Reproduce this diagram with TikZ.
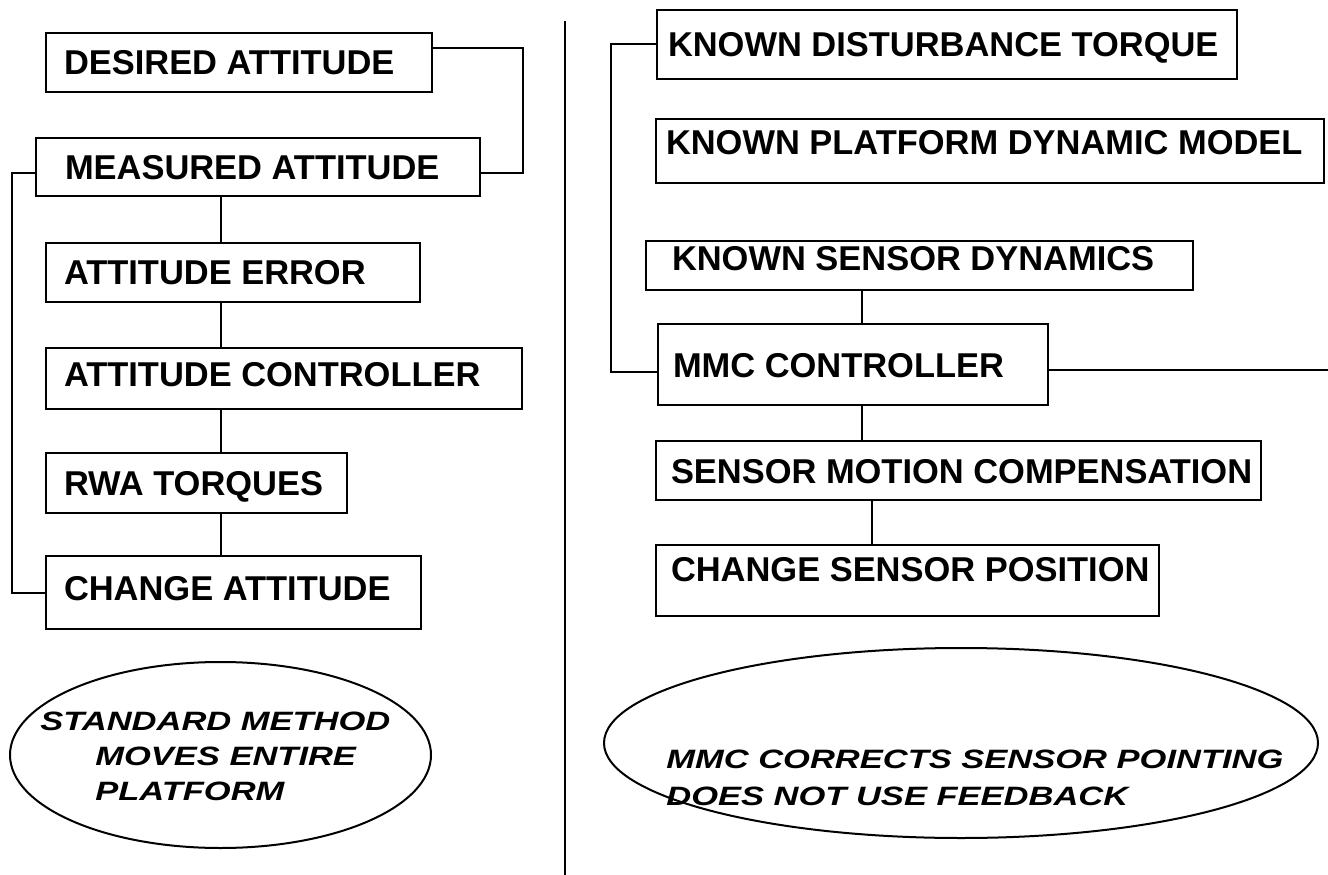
\documentclass[tikz,border=0pt]{standalone}
\usepackage{fontspec}
\setmainfont{Liberation Sans}
\newfontfamily\ovalfont[FakeStretch=1.3]{Liberation Sans}
\usepackage{tikz}
\usetikzlibrary{calc}
\def\inbox[#1:#2]#3{\makebox[#1][l]{\hspace*{#2}#3}}
\tikzset{
	box/.style={draw, line width=0.4mm, anchor=north west, inner xsep=0pt, inner ysep=0pt, text height=0.5cm, text depth=0pt, font=\fontsize{19.6pt}{23pt}\selectfont\bfseries},
	wire/.style={line width=0.4mm},
	oval/.style={anchor=north west, inner sep=0pt, align=left, font=\fontsize{15.1pt}{19.9pt}\selectfont\ovalfont\bfseries\itshape}
}

\begin{document}
\begin{tikzpicture}
			%%%%% START %%%%%
			\useasboundingbox (0,0) rectangle (26.56,-17.5);
			
			% standard method
			\node[box, minimum height=1.18cm] (des) at (0.90,-0.64) {\inbox[7.72cm:0.36cm]{DESIRED ATTITUDE}};
			\node[box, minimum height=1.16cm] (mea) at (0.70,-2.74) {\inbox[8.88cm:0.58cm]{MEASURED ATTITUDE}};
			\node[box, minimum height=1.18cm] (err) at (0.90,-4.84) {\inbox[7.48cm:0.36cm]{ATTITUDE ERROR}};
			\node[box, minimum height=1.22cm, text depth=0.18cm] (ctl) at (0.90,-6.94) {\inbox[9.52cm:0.36cm]{ATTITUDE CONTROLLER}};
			\node[box, minimum height=1.20cm] (rwa) at (0.90,-9.04) {\inbox[6.02cm:0.36cm]{RWA TORQUES}};
			\node[box, minimum height=1.46cm, text depth=0.18cm] (chg) at (0.90,-11.10) {\inbox[7.50cm:0.36cm]{CHANGE ATTITUDE}};
			
			\coordinate (lspine) at (4.42,0);
			\draw[wire] ([yshift=-0.32cm]des.north east) -- ++(1.8,0) |- ([yshift=-0.72cm]mea.north east);
			\draw[wire] ([yshift=-0.72cm]mea.north west) -- ++(-0.46,0) |- (chg.west);
			\draw[wire] (mea.south -| lspine) -- (err.north -| lspine);
			\draw[wire] (err.south -| lspine) -- (ctl.north -| lspine);
			\draw[wire] (ctl.south -| lspine) -- (rwa.north -| lspine);
			\draw[wire] (rwa.south -| lspine) -- (chg.north -| lspine);
			
			\draw[wire] (4.41,-15.10) ellipse (4.21 and 1.86);
			\node[oval] (stdnote) at (0.80,-14.24) {STANDARD METHOD\\\hspace*{1.1cm}MOVES ENTIRE\\\hspace*{1.1cm}PLATFORM};
			
			% divider
			\coordinate (divtop) at (11.30,-0.42);
			\coordinate (divbot) at (11.30,-17.5);
			\draw[wire] (divtop) -- (divbot);
			
			% mmc method
			\node[box, minimum height=1.38cm] (kdt) at (13.12,-0.18) {\inbox[11.60cm:0.22cm]{KNOWN DISTURBANCE TORQUE}};
			\node[box, minimum height=1.28cm, text depth=0.36cm] (kpd) at (13.10,-2.36) {\inbox[13.36cm:0.20cm]{KNOWN PLATFORM DYNAMIC MODEL}};
			\node[box, minimum height=0.98cm, text depth=0.30cm] (ksd) at (12.90,-4.80) {\inbox[10.94cm:0.52cm]{KNOWN SENSOR DYNAMICS}};
			\node[box, minimum height=1.62cm] (mmc) at (13.14,-6.46) {\inbox[7.80cm:0.30cm]{MMC CONTROLLER}};
			\node[box, minimum height=1.18cm] (smc) at (13.10,-8.80) {\inbox[12.10cm:0.30cm]{SENSOR MOTION COMPENSATION}};
			\node[box, minimum height=1.42cm, text depth=0.46cm] (csp) at (13.10,-10.88) {\inbox[10.06cm:0.30cm]{CHANGE SENSOR POSITION}};
			
			\coordinate (rspine) at (17.24,0);
			\coordinate (rspineb) at (17.44,0);
			\coordinate (mmcout) at (26.56,-7.40);
			\draw[wire] (kdt.west) -- ++(-0.9,0) |- ([yshift=-0.98cm]mmc.north west);
			\draw[wire] (mmc.east |- mmcout) -- (mmcout);
			\draw[wire] (ksd.south -| rspine) -- (mmc.north -| rspine);
			\draw[wire] (mmc.south -| rspine) -- (smc.north -| rspine);
			\draw[wire] (smc.south -| rspineb) -- (csp.north -| rspineb);
			
			\draw[wire] (19.22,-14.86) ellipse (7.14 and 1.90);
			\node[oval] (mmcnote) at (13.32,-15.00) {MMC CORRECTS SENSOR POINTING\\[1.1pt]DOES NOT USE FEEDBACK};
			
			%%%%% END %%%%%
\end{tikzpicture}
\end{document}
